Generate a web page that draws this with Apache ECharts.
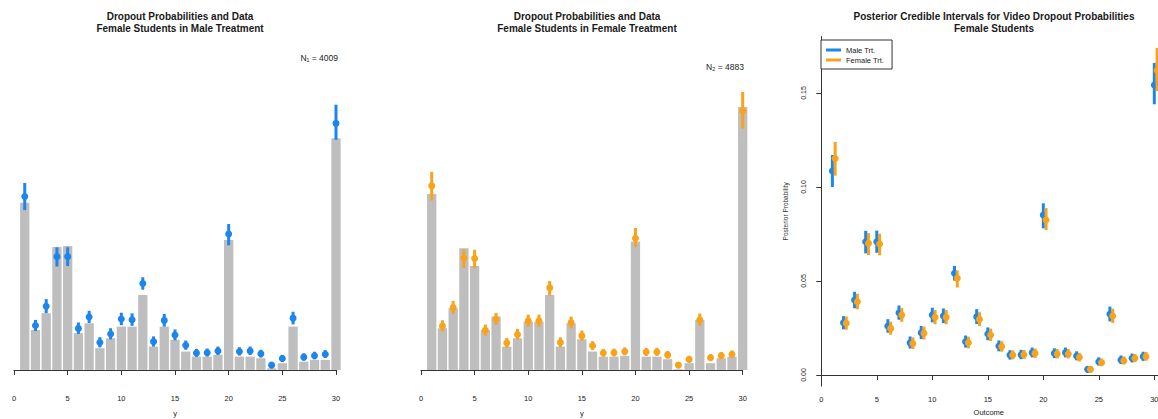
<!DOCTYPE html>
<html>
<head>
<meta charset="utf-8">
<script src="https://cdn.jsdelivr.net/npm/echarts@6/dist/echarts.min.js"></script>
<style>
  html, body { margin: 0; padding: 0; background: #fff; }
  #chart { width: 1158px; height: 419px; }
</style>
</head>
<body>
<div id="chart"></div>
<script>
// outcomes (dropout video) 1..30
var outcomes = [1,2,3,4,5,6,7,8,9,10,11,12,13,14,15,16,17,18,19,20,21,22,23,24,25,26,27,28,29,30];
var xTicks = [0, 5, 10, 15, 20, 25, 30];
var yTicks = [0, 0.05, 0.10, 0.15];

// observed proportions (grey bars)
var dataMale   = [0.1047,0.0250,0.0355,0.0770,0.0776,0.0230,0.0292,0.0136,0.0198,0.0271,0.0271,0.0469,0.0146,0.0271,0.0188,
                  0.0115,0.0083,0.0083,0.0094,0.0813,0.0083,0.0083,0.0073,0.0010,0.0042,0.0271,0.0052,0.0063,0.0063,0.1450];
var dataFemale = [0.1101,0.0261,0.0386,0.0761,0.0651,0.0250,0.0334,0.0146,0.0198,0.0302,0.0302,0.0469,0.0146,0.0292,0.0192,
                  0.0115,0.0083,0.0083,0.0088,0.0803,0.0083,0.0083,0.0067,0.0004,0.0042,0.0313,0.0042,0.0073,0.0083,0.1645];

// posterior means
var postMale   = [0.1085,0.0278,0.0399,0.0709,0.0709,0.0260,0.0331,0.0172,0.0225,0.0319,0.0314,0.0541,0.0177,0.0310,0.0218,
                  0.0154,0.0106,0.0108,0.0119,0.0851,0.0115,0.0119,0.0101,0.0030,0.0071,0.0324,0.0080,0.0089,0.0098,0.1543];
var postFemale = [0.1152,0.0275,0.0390,0.0700,0.0697,0.0248,0.0319,0.0168,0.0222,0.0307,0.0307,0.0514,0.0172,0.0296,0.0213,
                  0.0151,0.0106,0.0108,0.0115,0.0824,0.0112,0.0112,0.0094,0.0030,0.0066,0.0314,0.0076,0.0089,0.0098,0.1620];

// credible intervals
var loMale   = [0.1000,0.0243,0.0355,0.0647,0.0650,0.0225,0.0294,0.0141,0.0191,0.0280,0.0276,0.0502,0.0146,0.0271,0.0185,
                0.0126,0.0082,0.0084,0.0094,0.0780,0.0090,0.0094,0.0078,0.0017,0.0051,0.0285,0.0059,0.0067,0.0075,0.1440];
var hiMale   = [0.1170,0.0313,0.0443,0.0767,0.0768,0.0297,0.0370,0.0205,0.0261,0.0358,0.0354,0.0580,0.0210,0.0350,0.0253,
                0.0184,0.0132,0.0134,0.0146,0.0913,0.0142,0.0146,0.0126,0.0046,0.0094,0.0364,0.0104,0.0114,0.0124,0.1660];
var loFemale = [0.1060,0.0241,0.0350,0.0638,0.0637,0.0214,0.0283,0.0138,0.0189,0.0270,0.0270,0.0465,0.0142,0.0260,0.0181,
                0.0124,0.0083,0.0085,0.0091,0.0771,0.0088,0.0088,0.0072,0.0017,0.0047,0.0277,0.0056,0.0068,0.0076,0.1510];
var hiFemale = [0.1240,0.0311,0.0432,0.0755,0.0752,0.0284,0.0357,0.0200,0.0257,0.0346,0.0346,0.0556,0.0204,0.0334,0.0247,
                0.0180,0.0131,0.0133,0.0141,0.0888,0.0138,0.0138,0.0118,0.0045,0.0088,0.0353,0.0099,0.0112,0.0122,0.1740];

var BLUE = '#1c86ee', ORANGE = '#f9a31b', GREY = '#bebebe', INK = '#222';
var FONT = '"Liberation Sans", Arial, Helvetica, sans-serif';

// helpers to build pairs
function pts(vals, shift) {
  return outcomes.map(function (x, i) { return [x + shift, vals[i]]; });
}
function ci(lo, hi, shift) {
  return outcomes.map(function (x, i) { return [x + shift, lo[i], hi[i]]; });
}
// vertical interval line
function ciItem(params, api) {
  var a = api.coord([api.value(0), api.value(1)]);
  var b = api.coord([api.value(0), api.value(2)]);
  return {
    type: 'line',
    shape: { x1: a[0], y1: a[1], x2: b[0], y2: b[1] },
    style: { stroke: api.visual('color'), lineWidth: 3 }
  };
}

function barXAxis(idx) {
  return {
    gridIndex: idx, type: 'value', min: 0, max: 30, interval: 5,
    name: 'y', nameLocation: 'middle', nameGap: 24,
    nameTextStyle: { fontSize: 7.5, color: INK, fontFamily: FONT },
    axisLine: { show: true, lineStyle: { color: '#333', width: 1 } },
    axisTick: { show: true, length: 5, lineStyle: { color: '#333' } },
    axisLabel: { fontSize: 7.5, color: INK, margin: 9, fontFamily: FONT },
    splitLine: { show: false }
  };
}
function barYAxis(idx) {
  return { gridIndex: idx, type: 'value', min: -0.01, max: 0.17, show: false, splitLine: { show: false } };
}

var chart = echarts.init(document.getElementById('chart'), null, { renderer: 'svg' });

var titleStyle = { fontSize: 10, fontWeight: 'bold', lineHeight: 12.3, color: '#1a1a1a', fontFamily: FONT };

var option = {
  animation: false,
  backgroundColor: '#fff',
  title: [
    { text: 'Dropout Probabilities and Data\nFemale Students in Male Treatment',
      left: 180, top: 10, textAlign: 'center', padding: 0, textStyle: titleStyle },
    { text: 'Dropout Probabilities and Data\nFemale Students in Female Treatment',
      left: 587, top: 10, textAlign: 'center', padding: 0, textStyle: titleStyle },
    { text: 'Posterior Credible Intervals for Video Dropout Probabilities\nFemale Students',
      left: 994, top: 10, textAlign: 'center', padding: 0, textStyle: titleStyle }
  ],
  graphic: [
    { type: 'text', x: 338, y: 58, style: { text: 'N\u2081 = 4009', align: 'right', verticalAlign: 'middle', fontSize: 8.5, fill: INK, fontFamily: FONT } },
    { type: 'text', x: 744, y: 67, style: { text: 'N\u2082 = 4883', align: 'right', verticalAlign: 'middle', fontSize: 8.5, fill: INK, fontFamily: FONT } }
  ],
  legend: {
    data: [
      { name: 'Male Trt.', icon: 'rect', itemStyle: { color: BLUE } },
      { name: 'Female Trt.', icon: 'rect', itemStyle: { color: ORANGE } }
    ],
    orient: 'vertical', left: 821, top: 40,
    itemWidth: 15, itemHeight: 3, itemGap: 2,
    padding: [6, 8, 5, 5],
    backgroundColor: '#fff', borderColor: '#333', borderWidth: 1, borderRadius: 0,
    selectedMode: false,
    textStyle: { fontSize: 7.5, lineHeight: 8, color: INK, fontFamily: FONT }
  },
  // fixed plot areas, labels may sit outside
  grid: [
    { left: 14, width: 322, top: 98.3, height: 287.6, containLabel: false, outerBoundsMode: 'none' },
    { left: 421, width: 321.7, top: 98.3, height: 287.6, containLabel: false, outerBoundsMode: 'none' },
    { left: 819.4, width: 338.8, top: 36.6, height: 349.5, containLabel: false, outerBoundsMode: 'none' }
  ],
  xAxis: [
    barXAxis(0),
    barXAxis(1),
    {
      gridIndex: 2, type: 'value', min: -0.17, max: 30.35,
      name: 'Outcome', nameLocation: 'middle', nameGap: 22,
      nameTextStyle: { fontSize: 7.5, color: INK, fontFamily: FONT },
      axisLine: { show: true, lineStyle: { color: '#333', width: 1 } },
      axisTick: { show: true, length: 5, lineStyle: { color: '#333' }, customValues: xTicks },
      axisLabel: { fontSize: 7.5, color: INK, margin: 9, fontFamily: FONT, customValues: xTicks },
      splitLine: { show: false }
    }
  ],
  yAxis: [
    barYAxis(0),
    barYAxis(1),
    {
      gridIndex: 2, type: 'value', min: -0.0059, max: 0.18,
      name: 'Posterior Probability', nameLocation: 'middle', nameGap: 30,
      nameTextStyle: { fontSize: 6.5, color: '#333', fontFamily: FONT },
      axisLine: { show: true, lineStyle: { color: '#333', width: 1 } },
      axisTick: { show: true, length: 5, lineStyle: { color: '#333' }, customValues: yTicks },
      axisLabel: {
        fontSize: 7, color: INK, margin: 12, rotate: 90, fontFamily: FONT, customValues: yTicks,
        formatter: function (v) { return v.toFixed(2); }
      },
      splitLine: { show: false }
    }
  ],
  series: [
    // left panel: male treatment
    { type: 'bar', xAxisIndex: 0, yAxisIndex: 0, data: pts(dataMale, 0), barWidth: 9.3, clip: false,
      itemStyle: { color: GREY }, silent: true, z: 1 },
    { type: 'custom', xAxisIndex: 0, yAxisIndex: 0, data: ci(loMale, hiMale, 0), renderItem: ciItem,
      encode: { x: 0, y: [1, 2] }, itemStyle: { color: BLUE }, clip: false, z: 5 },
    { type: 'scatter', xAxisIndex: 0, yAxisIndex: 0, data: pts(postMale, 0), symbolSize: 7,
      itemStyle: { color: BLUE, opacity: 1 }, clip: false, z: 6 },

    // middle panel: female treatment
    { type: 'bar', xAxisIndex: 1, yAxisIndex: 1, data: pts(dataFemale, 0), barWidth: 9.3, clip: false,
      itemStyle: { color: GREY }, silent: true, z: 1 },
    { type: 'custom', xAxisIndex: 1, yAxisIndex: 1, data: ci(loFemale, hiFemale, 0), renderItem: ciItem,
      encode: { x: 0, y: [1, 2] }, itemStyle: { color: ORANGE }, clip: false, z: 5 },
    { type: 'scatter', xAxisIndex: 1, yAxisIndex: 1, data: pts(postFemale, 0), symbolSize: 7,
      itemStyle: { color: ORANGE, opacity: 1 }, clip: false, z: 6 },

    // right panel: both, orange shifted a little right
    { type: 'custom', name: 'Male Trt.', xAxisIndex: 2, yAxisIndex: 2, data: ci(loMale, hiMale, 0), renderItem: ciItem,
      encode: { x: 0, y: [1, 2] }, itemStyle: { color: BLUE }, clip: false, z: 5 },
    { type: 'scatter', name: 'Male Trt.', xAxisIndex: 2, yAxisIndex: 2, data: pts(postMale, 0), symbolSize: 7,
      itemStyle: { color: BLUE, opacity: 1 }, clip: false, z: 6 },
    { type: 'custom', name: 'Female Trt.', xAxisIndex: 2, yAxisIndex: 2, data: ci(loFemale, hiFemale, 0.25), renderItem: ciItem,
      encode: { x: 0, y: [1, 2] }, itemStyle: { color: ORANGE }, clip: false, z: 7 },
    { type: 'scatter', name: 'Female Trt.', xAxisIndex: 2, yAxisIndex: 2, data: pts(postFemale, 0.25), symbolSize: 7,
      itemStyle: { color: ORANGE, opacity: 1 }, clip: false, z: 8 }
  ]
};

chart.setOption(option);
</script>
</body>
</html>
